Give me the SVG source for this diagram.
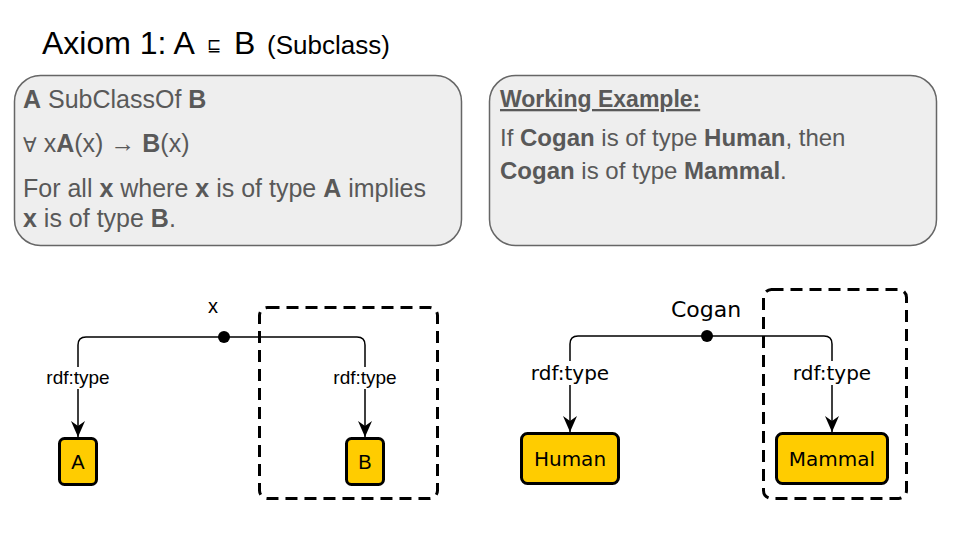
<svg xmlns="http://www.w3.org/2000/svg" width="960" height="540" viewBox="0 0 960 540">
<defs>
<style>
.box{fill:#eeeeee;stroke:#666666;stroke-width:1.5}
.bt{font-family:"Liberation Sans",Arial,sans-serif;fill:#595959}
.b{font-weight:bold}
.sym{font-family:"DejaVu Sans",sans-serif}
.arrow{font-family:"Noto Sans",sans-serif}
.node{fill:#ffcc00;stroke:#000;stroke-width:3}
.lt{font-family:"Liberation Sans",Arial,sans-serif;fill:#000}
.rt{font-family:"DejaVu Sans",sans-serif;fill:#000}
.edge{fill:none;stroke:#000;stroke-width:1.5}
.dash{fill:none;stroke:#000;stroke-width:3;stroke-dasharray:12 7}
.lbg{fill:#fff}
</style>
<marker id="arr" markerUnits="userSpaceOnUse" markerWidth="16" markerHeight="14" refX="16" refY="7" orient="auto">
<path d="M0,0 L16,7 L0,14 L5,7 Z" fill="#000"/>
</marker>
</defs>
<rect width="960" height="540" fill="#fff"/>
<g id="title">
<text x="42" y="54" class="lt" font-size="32">Axiom 1: A</text>
<text x="214" y="51" class="rt" font-size="17" text-anchor="middle">⊑</text>
<text x="234" y="54" class="lt" font-size="32">B</text>
<text x="267" y="54" class="lt" font-size="26">(Subclass)</text>
</g>
<g id="definition">
<rect class="box" x="14.5" y="75.5" width="447" height="170" rx="26"/>
<text class="bt" font-size="25" x="23" y="108"><tspan class="b">A</tspan> SubClassOf <tspan class="b">B</tspan></text>
<text class="bt" font-size="25" x="23" y="152"><tspan class="sym" font-size="20">∀</tspan> x<tspan class="b">A</tspan>(x) <tspan class="arrow">→</tspan> <tspan class="b">B</tspan>(x)</text>
<text class="bt" font-size="25" x="23" y="197">For all <tspan class="b">x</tspan> where <tspan class="b">x</tspan> is of type <tspan class="b">A</tspan> implies</text>
<text class="bt" font-size="25" x="23" y="227"><tspan class="b">x</tspan> is of type <tspan class="b">B</tspan>.</text>
</g>
<g id="example">
<rect class="box" x="489.5" y="75.5" width="447" height="170" rx="26"/>
<text class="bt b" font-size="23" x="500" y="107" text-decoration="underline">Working Example:</text>
<text class="bt" font-size="24" x="500" y="146">If <tspan class="b">Cogan</tspan> is of type <tspan class="b">Human</tspan>, then</text>
<text class="bt" font-size="24" x="500" y="179"><tspan class="b">Cogan</tspan> is of type <tspan class="b">Mammal</tspan>.</text>
</g>
<g id="connectors">
<path class="edge" d="M224,337 H86 Q78,337 78,345 V437" marker-end="url(#arr)"/>
<path class="edge" d="M224,337 H357 Q365,337 365,345 V437" marker-end="url(#arr)"/>
<path class="edge" d="M707,336 H578 Q570,336 570,344 V432" marker-end="url(#arr)"/>
<path class="edge" d="M707,336 H824 Q832,336 832,344 V432" marker-end="url(#arr)"/>
<rect class="lbg" x="44" y="367" width="68" height="22"/>
<text class="lt" font-size="19" x="78" y="384" text-anchor="middle">rdf:type</text>
<rect class="lbg" x="331" y="367" width="68" height="22"/>
<text class="lt" font-size="19" x="365" y="384" text-anchor="middle">rdf:type</text>
<rect class="lbg" x="529" y="361" width="82" height="24"/>
<text class="rt" font-size="20" x="570" y="380" text-anchor="middle">rdf:type</text>
<rect class="lbg" x="791" y="361" width="82" height="24"/>
<text class="rt" font-size="20" x="832" y="380" text-anchor="middle">rdf:type</text>
</g>
<g id="x">
<circle cx="224" cy="337" r="6" fill="#000"/>
<text class="lt" font-size="20" x="213" y="313" text-anchor="middle">x</text>
</g>
<g id="A">
<rect class="node" x="59.5" y="438.5" width="37" height="46" rx="5"/>
<text class="lt" font-size="20" x="78" y="469" text-anchor="middle">A</text>
</g>
<g id="B">
<rect class="node" x="346.5" y="438.5" width="37" height="46" rx="5"/>
<text class="lt" font-size="20" x="365" y="469" text-anchor="middle">B</text>
</g>
<rect id="subclass-box-left" class="dash" x="259.5" y="307.5" width="178" height="191" rx="8"/>
<g id="Cogan">
<circle cx="707" cy="336" r="6" fill="#000"/>
<text class="rt" font-size="22" x="706" y="317" text-anchor="middle">Cogan</text>
</g>
<g id="Human">
<rect class="node" x="521.5" y="433.5" width="97" height="50" rx="6"/>
<text class="rt" font-size="20" x="570" y="466" text-anchor="middle">Human</text>
</g>
<g id="Mammal">
<rect class="node" x="776.5" y="433.5" width="111" height="50" rx="6"/>
<text class="rt" font-size="20" x="832" y="466" text-anchor="middle">Mammal</text>
</g>
<rect id="subclass-box-right" class="dash" x="763.5" y="289.5" width="143" height="209" rx="8"/>
</svg>
